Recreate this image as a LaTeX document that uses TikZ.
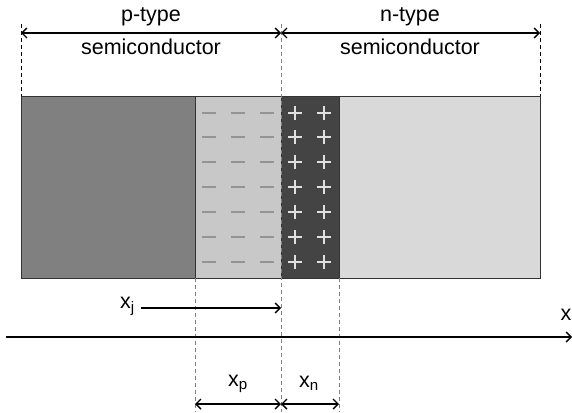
\documentclass[tikz,border=0pt]{standalone}
\usepackage{fontspec}
\setmainfont{Liberation Sans}
\usetikzlibrary{arrows.meta}
\definecolor{pdark}{HTML}{808080}
\definecolor{plight}{HTML}{C8C8C8}
\definecolor{ndark}{HTML}{444444}
\definecolor{nlight}{HTML}{D9D9D9}
\definecolor{edge}{HTML}{333333}
\definecolor{guide}{HTML}{808080}
\definecolor{minusc}{HTML}{949494}
\definecolor{plusc}{HTML}{E0E0E0}
\tikzset{
  region/.style={draw=edge, line width=1pt},
  guideline/.style={dashed, line width=0.8pt, dash pattern=on 4pt off 3pt},
  dim/.style={line width=1.4pt, {Straight Barb[length=5pt,width=10pt]}-{Straight Barb[length=5pt,width=10pt]}},
  fwd/.style={line width=1.4pt, -{Straight Barb[length=5pt,width=10pt]}},
  lbl/.style={font=\fontsize{21.5}{25}\selectfont, inner sep=0pt},
  minussign/.style={draw=minusc, line width=1.8pt},
  plussign/.style={draw=plusc, line width=1.6pt},
}
\begin{document}
\begin{tikzpicture}[x=1pt,y=-1pt]
\useasboundingbox (0,0) rectangle (572,412);
% regions
\path[region, fill=pdark] (21,96) rectangle (195,278);
\path[region, fill=plight] (195,96) rectangle (281,278);
\path[region, fill=ndark] (281,96) rectangle (339,278);
\path[region, fill=nlight] (339,96) rectangle (540,278);
% charges
\foreach \y in {113,137,162,187,212,237,262}{
  \foreach \x in {209,238,267}{
    \draw[minussign] (\x-7,\y) -- (\x+7,\y);
  }
  \foreach \x in {295,324}{
    \draw[plussign] (\x-7,\y) -- (\x+7,\y) (\x,\y-7) -- (\x,\y+7);
  }
}
% coordinates
\coordinate (pl) at (21,33);
\coordinate (jt) at (281,33);
\coordinate (nr) at (540,33);
\coordinate (pltop) at (21,24);
\coordinate (plbot) at (21,96);
\coordinate (nrtop) at (540,24);
\coordinate (nrbot) at (540,96);
\coordinate (jtop) at (281,24);
\coordinate (jbot) at (281,412);
\coordinate (xptop) at (195,278);
\coordinate (xpbot) at (195,412);
\coordinate (xntop) at (339,278);
\coordinate (xnbot) at (339,412);
\coordinate (xjs) at (141,308);
\coordinate (xjend) at (281,308);
\coordinate (axl) at (6,337);
\coordinate (axr) at (572,337);
\coordinate (dpl) at (195,404);
\coordinate (dj) at (281,404);
\coordinate (dnr) at (339,404);
% guide lines
\draw[guideline, black] (pltop) -- (plbot);
\draw[guideline, black] (nrtop) -- (nrbot);
\draw[guideline, guide] (jtop) -- (jbot);
\draw[guideline, guide] (xptop) -- (xpbot);
\draw[guideline, guide] (xntop) -- (xnbot);
% top dimension arrows
\draw[dim] (pl) -- (jt);
\draw[dim] (jt) -- (nr);
\node[lbl] (ptype) at (151,17) {p-type};
\node[lbl] (psemi) at (151,47) {semiconductor};
\node[lbl] (ntype) at (410,17) {n-type};
\node[lbl] (nsemi) at (410,47) {semiconductor};
% xj
\node[lbl, anchor=east] (xj) at (135,306) {x\textsubscript{j}};
\draw[fwd] (xjs) -- (xjend);
% axis
\draw[fwd] (axl) -- (axr);
\node[lbl, anchor=east] (xlab) at (571.5,315) {x};
% xp, xn
\node[lbl] (xp) at (238,384) {x\textsubscript{p}};
\node[lbl] (xn) at (309,383) {x\textsubscript{n}};
\draw[dim] (dpl) -- (dj);
\draw[dim] (dj) -- (dnr);
\end{tikzpicture}
\end{document}
